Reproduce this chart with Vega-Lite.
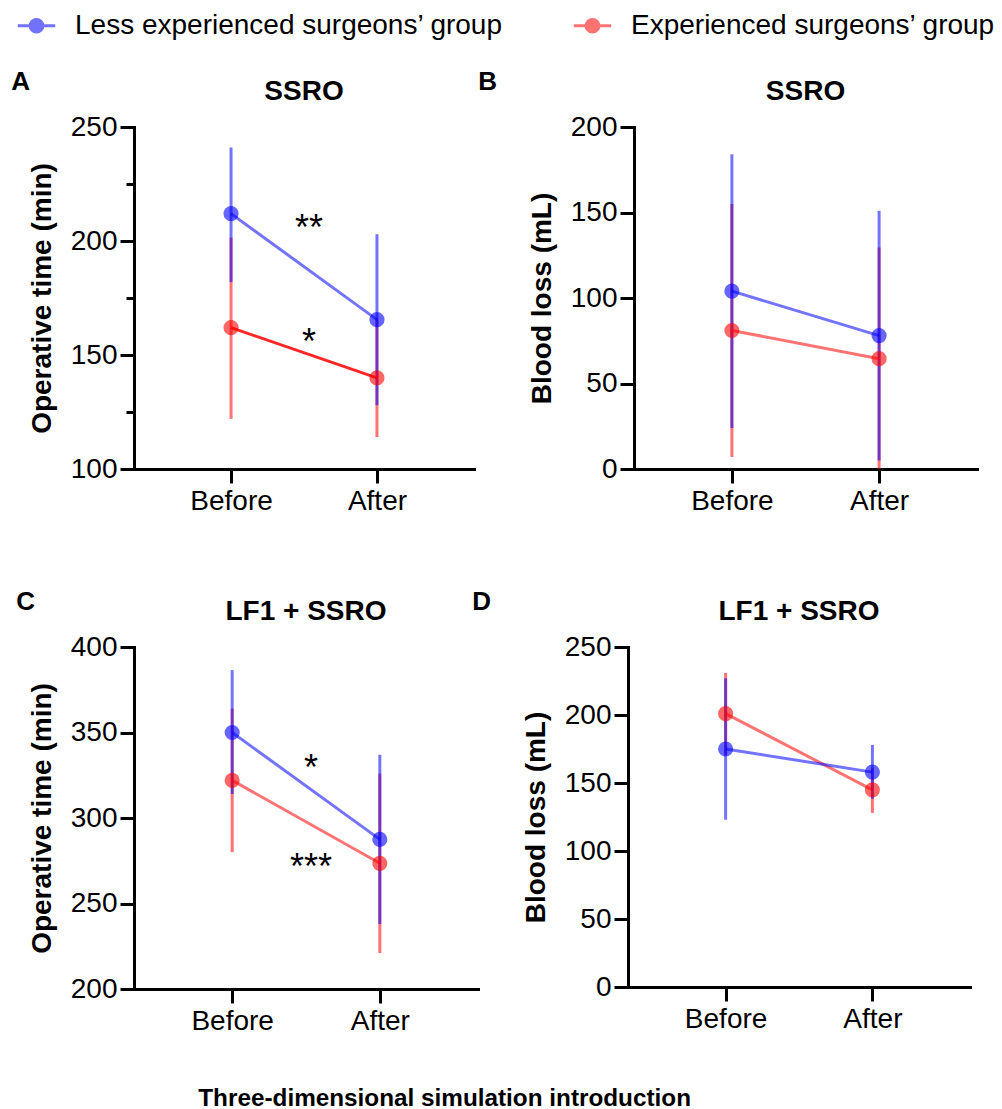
{
  "$schema": "https://vega.github.io/schema/vega-lite/v6.json",
  "background": "white",
  "padding": {"left": 11, "top": 5, "right": 5, "bottom": 2},
  "datasets": {
    "stats": [
      {"panel": "A", "group": "Experienced surgeons’ group", "time": "Before", "mean": 162, "lo": 122, "hi": 201.5},
      {"panel": "A", "group": "Experienced surgeons’ group", "time": "After", "mean": 140, "lo": 114, "hi": 166},
      {"panel": "A", "group": "Less experienced surgeons’ group", "time": "Before", "mean": 212, "lo": 182, "hi": 241},
      {"panel": "A", "group": "Less experienced surgeons’ group", "time": "After", "mean": 165.5, "lo": 128, "hi": 203},
      {"panel": "B", "group": "Experienced surgeons’ group", "time": "Before", "mean": 81, "lo": 7, "hi": 155},
      {"panel": "B", "group": "Experienced surgeons’ group", "time": "After", "mean": 64.5, "lo": 0, "hi": 129.5},
      {"panel": "B", "group": "Less experienced surgeons’ group", "time": "Before", "mean": 104, "lo": 24, "hi": 184},
      {"panel": "B", "group": "Less experienced surgeons’ group", "time": "After", "mean": 78, "lo": 5, "hi": 151},
      {"panel": "C", "group": "Experienced surgeons’ group", "time": "Before", "mean": 322, "lo": 280, "hi": 364},
      {"panel": "C", "group": "Experienced surgeons’ group", "time": "After", "mean": 273.5, "lo": 221, "hi": 326},
      {"panel": "C", "group": "Less experienced surgeons’ group", "time": "Before", "mean": 350, "lo": 314, "hi": 386.5},
      {"panel": "C", "group": "Less experienced surgeons’ group", "time": "After", "mean": 287.5, "lo": 238, "hi": 337},
      {"panel": "D", "group": "Experienced surgeons’ group", "time": "Before", "mean": 201, "lo": 171, "hi": 231},
      {"panel": "D", "group": "Experienced surgeons’ group", "time": "After", "mean": 145, "lo": 128, "hi": 161},
      {"panel": "D", "group": "Less experienced surgeons’ group", "time": "Before", "mean": 175, "lo": 123, "hi": 227},
      {"panel": "D", "group": "Less experienced surgeons’ group", "time": "After", "mean": 158, "lo": 138.5, "hi": 178}
    ],
    "notes": [
      {"panel": "A", "time": "between", "label": "**", "ypos": 208},
      {"panel": "A", "time": "between", "label": "*", "ypos": 158},
      {"panel": "C", "time": "between", "label": "*", "ypos": 332},
      {"panel": "C", "time": "between", "label": "***", "ypos": 274}
    ]
  },
  "title": {"text": "Three-dimensional simulation introduction", "orient": "bottom", "anchor": "middle", "fontSize": 24.3, "fontWeight": "bold", "offset": 52, "dx": -59, "color": "#000"},
  "config": {
    "font": "Liberation Sans",
    "view": {"stroke": null},
    "axis": {"domainColor": "#000", "domainWidth": 3, "domainCap": "square", "tickColor": "#000", "tickWidth": 3, "tickSize": 14, "labelFont": "Liberation Sans", "labelFontSize": 28, "labelColor": "#000", "labelPadding": 3, "titleFont": "Liberation Sans", "titleFontSize": 28, "titleFontWeight": "bold", "titleColor": "#000", "grid": false, "titlePadding": 14},
    "title": {"font": "Liberation Sans", "fontSize": 28, "fontWeight": "bold", "color": "#000", "anchor": "middle", "offset": 7},
    "legend": {"orient": "none", "legendX": -118, "legendY": -122, "direction": "horizontal", "labelFont": "Liberation Sans", "labelFontSize": 28, "labelColor": "#000", "labelLimit": 700, "symbolSize": 1400, "symbolStrokeWidth": 3, "columnPadding": 63, "labelOffset": 18}
  },
  "resolve": {"scale": {"color": "shared"}},
  "spacing": 74,
  "vconcat": [
    {"hconcat": [
      {"title": {"text": "A", "anchor": "start", "fontSize": 26, "dx": -17, "offset": -17},
       "vconcat": [{
        "title": "SSRO", "width": 340, "height": 342,
        "encoding": {
          "x": {"field": "time", "type": "ordinal", "scale": {"type": "point", "domain": ["lead", "Before", "between", "After", "tail"], "padding": 0.33}, "axis": {"values": ["Before", "After"], "title": null, "labelAngle": 0, "labelPadding": 4}},
          "color": {"field": "group", "type": "nominal", "scale": {"domain": ["Less experienced surgeons’ group", "Experienced surgeons’ group"], "range": ["#0000ff", "#ff0000"]}, "legend": {"title": null, "symbolType": "M-1,0L1,0M-0.34,0A0.34,0.34,0,1,1,0.34,0A0.34,0.34,0,1,1,-0.34,0Z", "encode": {"symbols": {"update": {"fill": {"scale": "color", "field": "value"}, "stroke": {"scale": "color", "field": "value"}, "opacity": {"value": 0.6}, "strokeWidth": {"value": 3}}}}}}
        },
        "layer": [
          {"data": {"name": "stats"}, "transform": [{"filter": "datum.panel === 'A'"}], "mark": {"type": "rule", "strokeWidth": 3, "opacity": 0.55},
           "encoding": {"y": {"field": "lo", "type": "quantitative", "title": "Operative time (min)", "scale": {"domain": [100, 250], "nice": false, "zero": false}, "axis": {"values": [100, 125, 150, 175, 200, 225, 250], "labelExpr": "datum.value % 50 === 0 ? datum.label : ''", "tickSize": {"condition": {"test": "datum.value % 50 === 0", "value": 14}, "value": 8}}}, "y2": {"field": "hi"}}},
          {"data": {"name": "stats"}, "transform": [{"filter": "datum.panel === 'A'"}], "mark": {"type": "line", "strokeWidth": 3},
           "encoding": {"y": {"field": "mean", "type": "quantitative", "title": "Operative time (min)"}, "opacity": {"condition": {"test": "datum.group === 'Experienced surgeons’ group'", "value": 0.85}, "value": 0.55}}},
          {"data": {"name": "stats"}, "transform": [{"filter": "datum.panel === 'A'"}], "mark": {"type": "point", "filled": true, "size": 230, "opacity": 0.6},
           "encoding": {"y": {"field": "mean", "type": "quantitative", "title": "Operative time (min)"}}},
          {"data": {"name": "notes"}, "transform": [{"filter": "datum.panel === 'A'"}], "mark": {"type": "text", "fontSize": 36, "baseline": "alphabetic", "dy": 17, "dx": 5},
           "encoding": {"y": {"field": "ypos", "type": "quantitative", "title": "Operative time (min)"}, "text": {"field": "label"}, "color": {"value": "#000"}}}
        ]
      }]},
      {"title": {"text": "B", "anchor": "start", "fontSize": 26, "dx": -50, "offset": -17},
       "vconcat": [{
        "title": "SSRO", "width": 343, "height": 342,
        "encoding": {
          "x": {"field": "time", "type": "ordinal", "scale": {"type": "point", "domain": ["lead", "Before", "between", "After", "tail"], "padding": 0.33}, "axis": {"values": ["Before", "After"], "title": null, "labelAngle": 0, "labelPadding": 4}},
          "color": {"field": "group", "type": "nominal", "scale": {"domain": ["Less experienced surgeons’ group", "Experienced surgeons’ group"], "range": ["#0000ff", "#ff0000"]}, "legend": {"title": null, "symbolType": "M-1,0L1,0M-0.34,0A0.34,0.34,0,1,1,0.34,0A0.34,0.34,0,1,1,-0.34,0Z"}}
        },
        "layer": [
          {"data": {"name": "stats"}, "transform": [{"filter": "datum.panel === 'B'"}], "mark": {"type": "rule", "strokeWidth": 3, "opacity": 0.55},
           "encoding": {"y": {"field": "lo", "type": "quantitative", "title": "Blood loss (mL)", "scale": {"domain": [0, 200], "nice": false}, "axis": {"values": [0, 50, 100, 150, 200]}}, "y2": {"field": "hi"}}},
          {"data": {"name": "stats"}, "transform": [{"filter": "datum.panel === 'B'"}], "mark": {"type": "line", "strokeWidth": 3, "opacity": 0.55},
           "encoding": {"y": {"field": "mean", "type": "quantitative", "title": "Blood loss (mL)"}}},
          {"data": {"name": "stats"}, "transform": [{"filter": "datum.panel === 'B'"}], "mark": {"type": "point", "filled": true, "size": 230, "opacity": 0.6},
           "encoding": {"y": {"field": "mean", "type": "quantitative", "title": "Blood loss (mL)"}}}
        ]
      }]}
    ], "spacing": 4},
    {"hconcat": [
      {"title": {"text": "C", "anchor": "start", "fontSize": 26, "dx": -12, "offset": -17},
       "vconcat": [{
        "title": "LF1 + SSRO", "width": 344, "height": 342,
        "encoding": {
          "x": {"field": "time", "type": "ordinal", "scale": {"type": "point", "domain": ["lead", "Before", "between", "After", "tail"], "padding": 0.33}, "axis": {"values": ["Before", "After"], "title": null, "labelAngle": 0, "labelPadding": 4}},
          "color": {"field": "group", "type": "nominal", "scale": {"domain": ["Less experienced surgeons’ group", "Experienced surgeons’ group"], "range": ["#0000ff", "#ff0000"]}, "legend": {"title": null, "symbolType": "M-1,0L1,0M-0.34,0A0.34,0.34,0,1,1,0.34,0A0.34,0.34,0,1,1,-0.34,0Z"}}
        },
        "layer": [
          {"data": {"name": "stats"}, "transform": [{"filter": "datum.panel === 'C'"}], "mark": {"type": "rule", "strokeWidth": 3, "opacity": 0.55},
           "encoding": {"y": {"field": "lo", "type": "quantitative", "title": "Operative time (min)", "scale": {"domain": [200, 400], "nice": false, "zero": false}, "axis": {"values": [200, 250, 300, 350, 400]}}, "y2": {"field": "hi"}}},
          {"data": {"name": "stats"}, "transform": [{"filter": "datum.panel === 'C'"}], "mark": {"type": "line", "strokeWidth": 3, "opacity": 0.55},
           "encoding": {"y": {"field": "mean", "type": "quantitative", "title": "Operative time (min)"}}},
          {"data": {"name": "stats"}, "transform": [{"filter": "datum.panel === 'C'"}], "mark": {"type": "point", "filled": true, "size": 230, "opacity": 0.6},
           "encoding": {"y": {"field": "mean", "type": "quantitative", "title": "Operative time (min)"}}},
          {"data": {"name": "notes"}, "transform": [{"filter": "datum.panel === 'C'"}], "mark": {"type": "text", "fontSize": 36, "baseline": "alphabetic", "dy": 17, "dx": 5},
           "encoding": {"y": {"field": "ypos", "type": "quantitative", "title": "Operative time (min)"}, "text": {"field": "label"}, "color": {"value": "#000"}}}
        ]
      }]},
      {"title": {"text": "D", "anchor": "start", "fontSize": 26, "dx": -50, "offset": -17},
       "vconcat": [{
        "title": "LF1 + SSRO", "width": 342, "height": 340,
        "encoding": {
          "x": {"field": "time", "type": "ordinal", "scale": {"type": "point", "domain": ["lead", "Before", "between", "After", "tail"], "padding": 0.33}, "axis": {"values": ["Before", "After"], "title": null, "labelAngle": 0, "labelPadding": 4}},
          "color": {"field": "group", "type": "nominal", "scale": {"domain": ["Less experienced surgeons’ group", "Experienced surgeons’ group"], "range": ["#0000ff", "#ff0000"]}, "legend": {"title": null, "symbolType": "M-1,0L1,0M-0.34,0A0.34,0.34,0,1,1,0.34,0A0.34,0.34,0,1,1,-0.34,0Z"}}
        },
        "layer": [
          {"data": {"name": "stats"}, "transform": [{"filter": "datum.panel === 'D'"}], "mark": {"type": "rule", "strokeWidth": 3, "opacity": 0.55},
           "encoding": {"y": {"field": "lo", "type": "quantitative", "title": "Blood loss (mL)", "scale": {"domain": [0, 250], "nice": false}, "axis": {"values": [0, 50, 100, 150, 200, 250]}}, "y2": {"field": "hi"}}},
          {"data": {"name": "stats"}, "transform": [{"filter": "datum.panel === 'D'"}], "mark": {"type": "line", "strokeWidth": 3, "opacity": 0.55},
           "encoding": {"y": {"field": "mean", "type": "quantitative", "title": "Blood loss (mL)"}}},
          {"data": {"name": "stats"}, "transform": [{"filter": "datum.panel === 'D'"}], "mark": {"type": "point", "filled": true, "size": 230, "opacity": 0.6},
           "encoding": {"y": {"field": "mean", "type": "quantitative", "title": "Blood loss (mL)"}}}
        ]
      }]}
    ], "spacing": -6}
  ]
}
